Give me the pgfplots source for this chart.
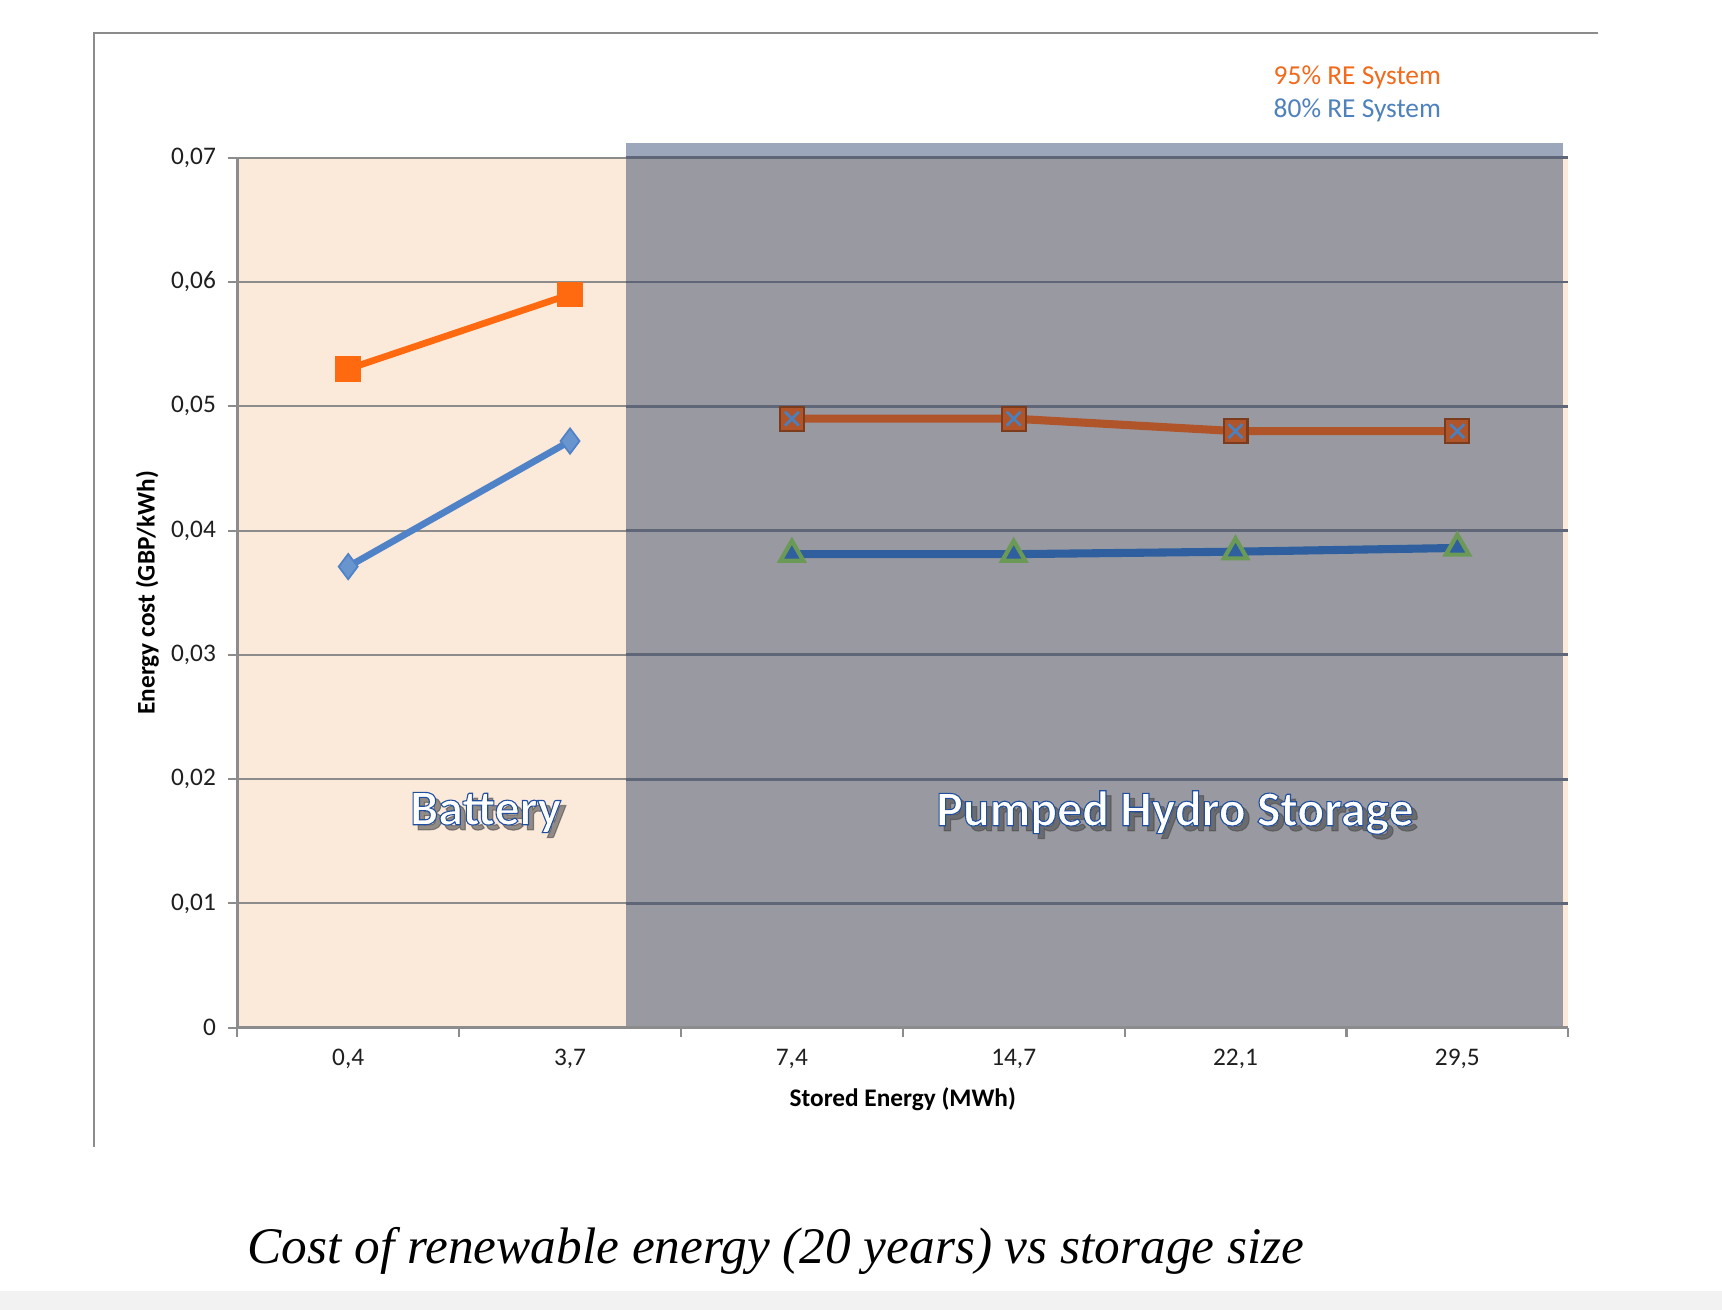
\documentclass[border=0pt]{standalone}
\usepackage{fontspec}
\setmainfont{Carlito}
\newfontfamily\capfont{Liberation Serif}
\newfontfamily\outfont{Carlito}[BoldFeatures={FakeBold=2.2}]
\usepackage{pgfplots}
\pgfplotsset{compat=1.18}

\definecolor{peach}{HTML}{FBE9DA}
\definecolor{bandgray}{HTML}{999AA1}
\definecolor{bandtop}{HTML}{9CA7BB}
\definecolor{gridA}{HTML}{8C8C8C}
\definecolor{gridB}{HTML}{5E6678}
\definecolor{orgA}{HTML}{FF6A10}
\definecolor{bluA}{HTML}{4F82C6}
\definecolor{brnB}{HTML}{B0542A}
\definecolor{bluB}{HTML}{2F5F9F}
\definecolor{grnB}{HTML}{6A9A55}
\definecolor{xblue}{HTML}{4A80BE}
\definecolor{legorange}{HTML}{F26A1B}
\definecolor{legblue}{HTML}{4F81BD}

\newcommand{\bigtxt}[3]{%
  \node[font=\outfont\bfseries\fontsize{14.2}{17}\selectfont, text=black!70, opacity=0.6] at ([shift={(0.5mm,-0.5mm)}]#1,#2) {#3};
  \node[font=\outfont\bfseries\fontsize{14.2}{17}\selectfont] at (#1,#2)
    {\color{white}\special{pdf:code 0.12 0.31 0.62 RG}#3};
}

\begin{document}
\begin{tikzpicture}
\path[use as bounding box] (0,0) rectangle (17.22cm,13.10cm);
\fill[white] (0,0) rectangle (17.22cm,13.10cm);
\fill[black!5] (0,0) rectangle (17.22cm,0.19cm);
\draw[black!45, line width=0.7pt] (0.938cm,1.63cm) -- (0.938cm,12.769cm) -- (15.98cm,12.769cm);

\begin{axis}[
  at={(2.373cm,2.823cm)}, anchor=south west,
  scale only axis, width=13.31cm, height=8.70cm,
  xmin=-0.5, xmax=5.5, ymin=0, ymax=0.07,
  clip=false, axis on top,
  scaled y ticks=false,
  axis x line*=bottom, axis y line*=left,
  axis line style={gridA, line width=0.7pt, -},
  xtick={-0.5,0.5,1.5,2.5,3.5,4.5,5.5},
  x tick label as interval,
  xticklabels={{0,4},{3,7},{7,4},{14,7},{22,1},{29,5}},
  ytick={0,0.01,0.02,0.03,0.04,0.05,0.06,0.07},
  yticklabels={0,{0,01},{0,02},{0,03},{0,04},{0,05},{0,06},{0,07}},
  tick align=outside, major tick length=0.09cm,
  tick style={gridA, line width=0.6pt},
  ticklabel style={font=\fontsize{7.2}{8.6}\selectfont, text=black!88},
  xlabel={Stored Energy (MWh)}, ylabel={Energy cost (GBP/kWh)},
  label style={font=\fontsize{7.2}{8.6}\selectfont\bfseries},
  xlabel style={at={(axis description cs:0.5,-0.082)}, anchor=center},
  ylabel style={at={(axis description cs:-0.0676,0.5)}, anchor=center},
]
% backgrounds
\fill[peach] (axis cs:-0.5,0) rectangle (axis cs:5.5,0.07);
\fill[bandgray] (axis cs:1.25,0) rectangle (axis cs:5.475,0.07);
\fill[bandtop] (axis cs:1.25,0.07) rectangle (axis cs:5.475,0.07115);
% grid
\draw[gridA, line width=0.6pt]
  (axis cs:-0.5,0.01) -- (axis cs:1.25,0.01)
  (axis cs:-0.5,0.02) -- (axis cs:1.25,0.02)
  (axis cs:-0.5,0.03) -- (axis cs:1.25,0.03)
  (axis cs:-0.5,0.04) -- (axis cs:1.25,0.04)
  (axis cs:-0.5,0.05) -- (axis cs:1.25,0.05)
  (axis cs:-0.5,0.06) -- (axis cs:1.25,0.06)
  (axis cs:-0.5,0.07) -- (axis cs:1.25,0.07);
\draw[gridB, line width=0.8pt]
  (axis cs:1.25,0.01) -- (axis cs:5.5,0.01)
  (axis cs:1.25,0.02) -- (axis cs:5.5,0.02)
  (axis cs:1.25,0.03) -- (axis cs:5.5,0.03)
  (axis cs:1.25,0.04) -- (axis cs:5.5,0.04)
  (axis cs:1.25,0.05) -- (axis cs:5.5,0.05)
  (axis cs:1.25,0.06) -- (axis cs:5.5,0.06)
  (axis cs:1.25,0.07) -- (axis cs:5.5,0.07);
% Battery, 95% RE
\addplot[orgA, line width=1.9pt, mark=square*, mark size=3.4pt,
  mark options={solid, fill=orgA, draw=orgA, line width=0.5pt}]
  coordinates {(0,0.053) (1,0.059)};
% Battery, 80% RE
\addplot[bluA, line width=1.9pt, mark=diamond*, mark size=3.6pt,
  mark options={solid, fill=bluA!85!white, draw=bluA, line width=0.5pt}]
  coordinates {(0,0.0371) (1,0.0472)};
% PHS, 95% RE
\addplot[brnB, line width=2.3pt, mark=square*, mark size=3.4pt,
  mark options={solid, fill=brnB, draw=brnB!70!black, line width=0.6pt}]
  coordinates {(2,0.049) (3,0.049) (4,0.048) (5,0.048)};
\addplot[only marks, mark=x, mark size=2.8pt,
  mark options={draw=xblue, line width=0.8pt}]
  coordinates {(2,0.049) (3,0.049) (4,0.048) (5,0.048)};
% PHS, 80% RE
\addplot[bluB, line width=2.3pt, mark=triangle*, mark size=3.8pt,
  mark options={solid, fill=bluB, draw=grnB, line width=1.2pt}]
  coordinates {(2,0.0381) (3,0.0381) (4,0.0383) (5,0.0386)};
\end{axis}

\bigtxt{4.857cm}{4.975cm}{Battery}
\bigtxt{11.75cm}{4.975cm}{Pumped Hydro Storage}

\node[anchor=west, inner sep=0, text=legorange, font=\fontsize{7.8}{9}\selectfont] at (12.73cm,12.33cm) {95\% RE System};
\node[anchor=west, inner sep=0, text=legblue, font=\fontsize{7.8}{9}\selectfont] at (12.73cm,12.00cm) {80\% RE System};

\node[anchor=base, inner sep=0, font=\capfont\itshape\fontsize{14.6}{17}\selectfont] at (7.76cm,0.46cm) {Cost of renewable energy (20 years) vs storage size};
\end{tikzpicture}
\end{document}
